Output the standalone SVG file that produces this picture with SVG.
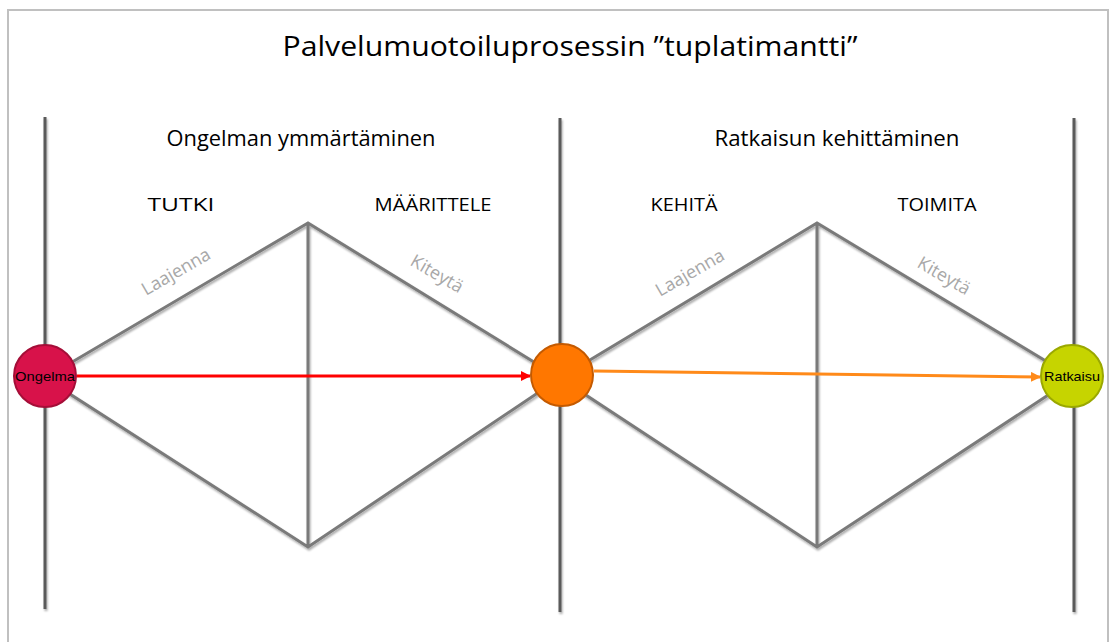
<svg xmlns="http://www.w3.org/2000/svg" width="1109" height="642" viewBox="0 0 1109 642">
<defs>
<style>
.frame{fill:#fff;stroke:#c0c0c0;stroke-width:2}
.vline{stroke:#5a5a5a;stroke-width:3;fill:none}
.dline{stroke:#7a7a7a;stroke-width:3;fill:none;stroke-linecap:round}
.t{font-family:"Open Sans","Liberation Sans",sans-serif;fill:#000;text-anchor:middle}
.g{font-family:"Open Sans","Liberation Sans",sans-serif;fill:#a8a8a8;text-anchor:middle;font-size:18px}
.c{font-family:"Liberation Sans",Arial,sans-serif;fill:#000;text-anchor:middle;font-size:13.5px}
</style>
<filter id="sh" x="-10%" y="-10%" width="120%" height="120%">
<feGaussianBlur in="SourceAlpha" stdDeviation="1.2"/>
<feOffset dx="1" dy="2" result="b"/>
<feComponentTransfer><feFuncA type="linear" slope="0.35"/></feComponentTransfer>
<feMerge><feMergeNode/><feMergeNode in="SourceGraphic"/></feMerge>
</filter>
<marker id="arR" markerWidth="10" markerHeight="10" refX="9" refY="5" orient="auto" markerUnits="userSpaceOnUse">
<path d="M0,0 L10,5 L0,10 z" fill="#ff0000"/>
</marker>
<marker id="arO" markerWidth="10" markerHeight="10" refX="9" refY="5" orient="auto" markerUnits="userSpaceOnUse">
<path d="M0,0 L10,5 L0,10 z" fill="#ff8a1a"/>
</marker>
</defs>
<rect class="frame" x="8" y="10" width="1100" height="640"/>
<text class="t" x="570" y="56" font-size="28" textLength="575" lengthAdjust="spacingAndGlyphs">Palvelumuotoiluprosessin ”tuplatimantti”</text>
<text class="t" x="301" y="146" font-size="21" textLength="269" lengthAdjust="spacingAndGlyphs">Ongelman ymmärtäminen</text>
<text class="t" x="837" y="146" font-size="21" textLength="245" lengthAdjust="spacingAndGlyphs">Ratkaisun kehittäminen</text>
<text class="t" x="181" y="211" font-size="18" textLength="67" lengthAdjust="spacingAndGlyphs">TUTKI</text>
<text class="t" x="433" y="211" font-size="18" textLength="117" lengthAdjust="spacingAndGlyphs">MÄÄRITTELE</text>
<text class="t" x="684" y="211" font-size="18" textLength="67" lengthAdjust="spacingAndGlyphs">KEHITÄ</text>
<text class="t" x="937" y="211" font-size="18" textLength="79" lengthAdjust="spacingAndGlyphs">TOIMITA</text>
<g id="structure" filter="url(#sh)">
<line class="vline" x1="45" y1="117" x2="45" y2="609"/>
<line class="vline" x1="560" y1="118" x2="560" y2="612"/>
<line class="vline" x1="1074" y1="118" x2="1074" y2="612"/>
<path class="dline" d="M45,378 L308,223 L560,378 L308,547 Z M308,223 L308,547"/>
<path class="dline" d="M560,378 L817,223 L1074,378 L817,547 Z M817,223 L817,547"/>
</g>
<text class="g" transform="translate(179,277) rotate(-30)">Laajenna</text>
<text class="g" transform="translate(434,279) rotate(30)">Kiteytä</text>
<text class="g" transform="translate(693,278) rotate(-30)">Laajenna</text>
<text class="g" transform="translate(941,281) rotate(30)">Kiteytä</text>
<g id="connectors">
<line x1="77" y1="376" x2="530" y2="376" stroke="#ff0000" stroke-width="3" marker-end="url(#arR)"/>
<line x1="594" y1="371" x2="1040" y2="377" stroke="#ff8a1a" stroke-width="3" marker-end="url(#arO)"/>
</g>
<g id="ongelma">
<circle cx="45" cy="376" r="31" fill="#d8124a" stroke="#a50e38" stroke-width="2"/>
<text class="c" x="45" y="381" textLength="60" lengthAdjust="spacingAndGlyphs">Ongelma</text>
</g>
<g id="valivaihe">
<circle cx="562" cy="375" r="31" fill="#ff7700" stroke="#c45a00" stroke-width="2"/>
</g>
<g id="ratkaisu">
<circle cx="1072" cy="376" r="31" fill="#c6d400" stroke="#9aa800" stroke-width="2"/>
<text class="c" x="1072" y="381" textLength="56" lengthAdjust="spacingAndGlyphs">Ratkaisu</text>
</g>
</svg>
